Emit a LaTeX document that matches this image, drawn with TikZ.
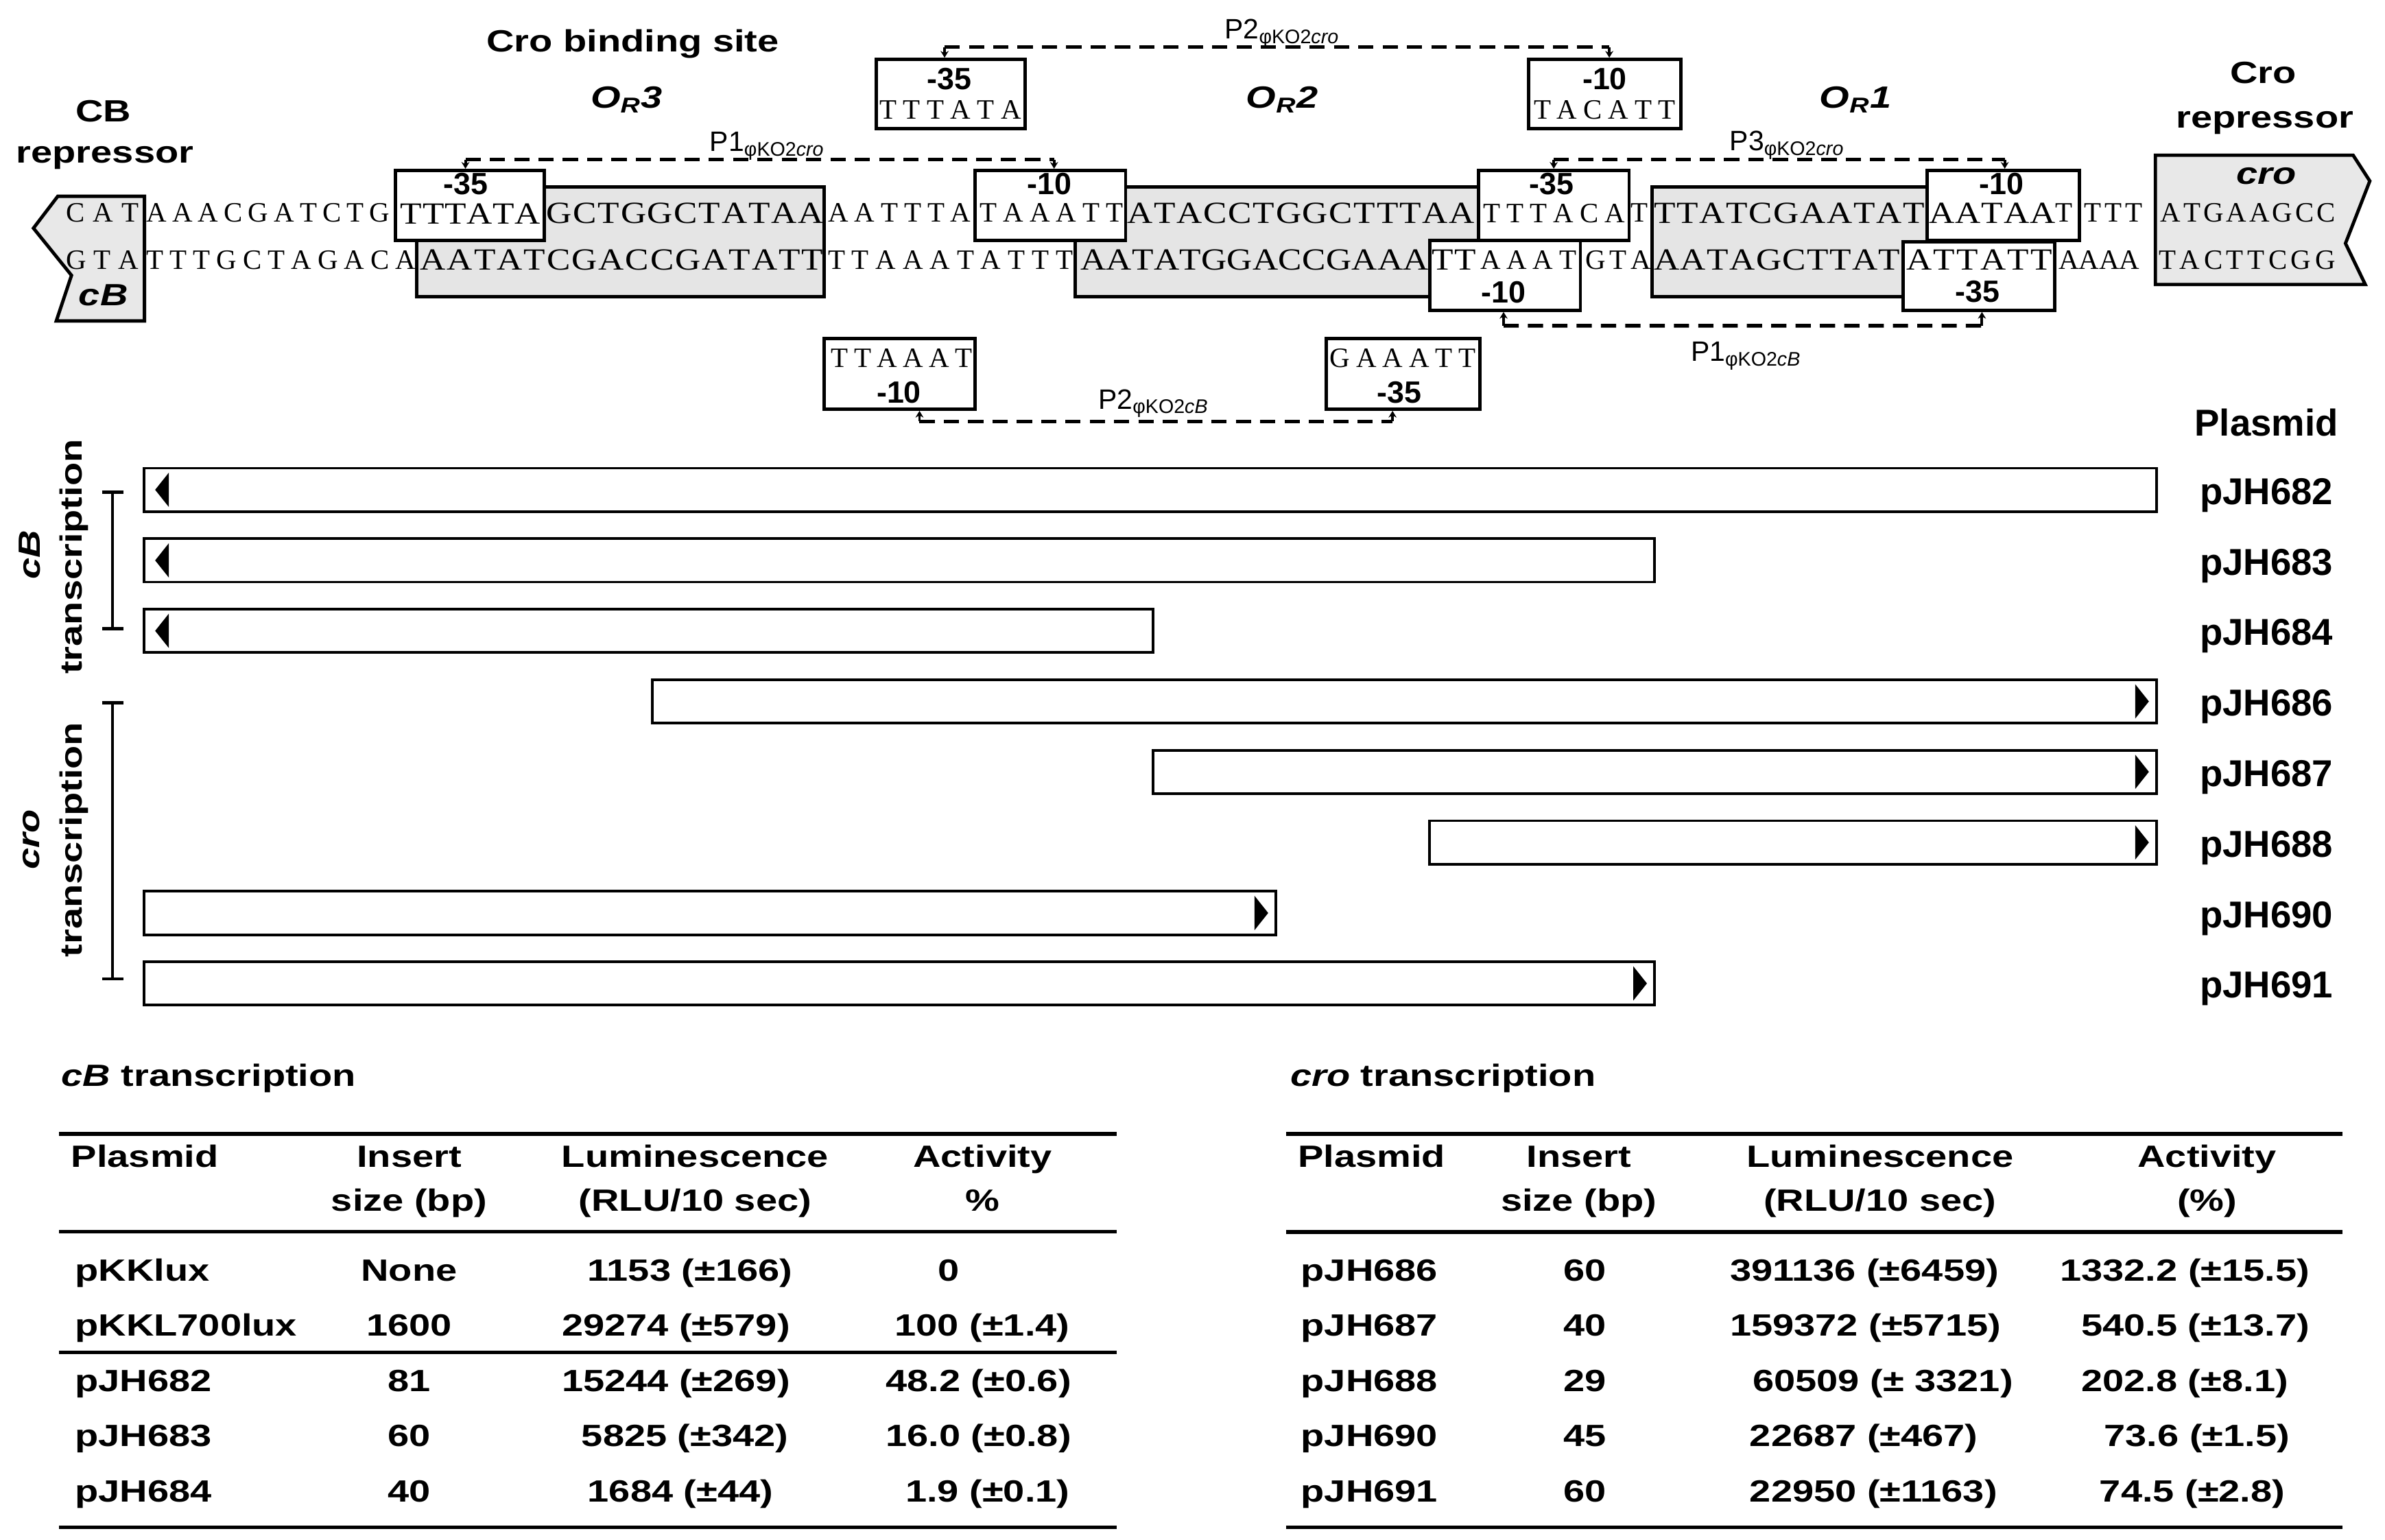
\documentclass[tikz,border=0pt]{standalone}
\usepackage{fontspec}
\setmainfont{Liberation Sans}[FakeStretch=1.25]
\newfontfamily\labfont{Liberation Sans}
\newfontfamily\seqfont{Liberation Serif}
\newfontfamily\bigseqfont{Liberation Serif}[FakeStretch=1.15]
\usetikzlibrary{arrows.meta}
\newlength\pu
\setlength\pu{0.02cm}
\newcommand\spr[2]{\makebox[#1\pu][s]{\spaceskip=0pt plus 1fil\relax #2}}
\newcommand\ori[1]{\textit{O\textsubscript{R}#1}}

\begin{document}
\begin{tikzpicture}[x=0.02cm,y=-0.02cm,
  tx/.style={font=\bfseries\fontsize{11.5}{13}\selectfont, inner sep=0},
  lab/.style={font=\labfont\fontsize{10.5}{12}\selectfont, inner sep=0, anchor=base},
  num/.style={font=\labfont\bfseries\fontsize{11.5}{12}\selectfont, inner sep=0},
  sm/.style={font=\seqfont\fontsize{10.5}{11}\selectfont, inner sep=0, anchor=west},
  bg/.style={font=\bigseqfont\fontsize{11.5}{12}\selectfont, inner sep=0, anchor=west},
  pbox/.style={draw, line width=1.25pt, fill=white, inner sep=0},
  orbox/.style={draw, line width=1.25pt, fill=black!10},
  gene/.style={draw, line width=1.25pt, fill=black!9},
  tick/.style={line width=1pt, {Stealth[length=2.5pt,width=3pt]}-},
  prom/.style={line width=1.4pt, dash pattern=on 0.2cm off 0.12cm},
  bar/.style={draw, line width=1pt, inner sep=0, minimum height=28.5*\pu, anchor=west},
  plab/.style={font=\labfont\bfseries\fontsize{14}{16}\selectfont, inner sep=0, anchor=base},
  rule/.style={line width=1.4pt},
  brk/.style={line width=1.2pt, {Bar[width=0.28cm]}-{Bar[width=0.28cm]}}]
\useasboundingbox (0,0) rectangle (1568,1012);

\draw[orbox] (274,123) rectangle (542,195);
\draw[orbox] (707,123) rectangle (972,195);
\draw[orbox] (1086,123) rectangle (1268,195);
\draw[gene] (38,129) -- (22,150) -- (47,181) -- (37,211) -- (95,211) -- (95,129) -- cycle;
\draw[gene] (1417,102) -- (1547,102) -- (1558,119) -- (1542,160) -- (1555,187) -- (1417,187) -- cycle;

\node[pbox, minimum width=98*\pu, minimum height=46*\pu] (p1croA) at (309,135) {};
\node[pbox, minimum width=99*\pu, minimum height=46*\pu] (p1croB) at (690.5,135) {};
\node[pbox, minimum width=99*\pu, minimum height=46*\pu] (p3croA) at (1021.5,135) {};
\node[pbox, minimum width=100*\pu, minimum height=46*\pu] (p3croB) at (1317,135) {};
\node[pbox, minimum width=99*\pu, minimum height=46*\pu] (p1cBA) at (989.5,181) {};
\node[pbox, minimum width=100*\pu, minimum height=45*\pu] (p1cBB) at (1301,181.5) {};
\node[pbox, minimum width=98*\pu, minimum height=45.5*\pu] (p2croA) at (625,61.75) {};
\node[pbox, minimum width=100*\pu, minimum height=45.5*\pu] (p2croB) at (1055,61.75) {};
\node[pbox, minimum width=99*\pu, minimum height=46.5*\pu] (p2cBA) at (591.5,245.75) {};
\node[pbox, minimum width=101*\pu, minimum height=46.5*\pu] (p2cBB) at (922.5,245.75) {};

\node[sm] (t1) at (43,140) {\spr{48}{C A T}};
\node[sm] (t2) at (96,140) {\spr{160}{A A A C G A T C T G}};
\node[bg] (t3) at (263,140.5) {\spr{92}{T T T A T A}};
\node[bg] (t4) at (359,140) {\spr{182}{G C T G G C T A T A A}};
\node[sm] (t5) at (544,140) {\spr{94}{A A T T T A}};
\node[sm] (t6) at (644,140) {\spr{94}{T A A A T T}};
\node[bg] (t7) at (741,140) {\spr{228}{A T A C C T G G C T T T A A}};
\node[sm] (t8) at (975,140.5) {\spr{93}{T T T A C A}};
\node[sm, anchor=center] (t9) at (1078,140) {T};
\node[bg] (t10) at (1087,140) {\spr{178}{T T A T C G A A T A T}};
\node[bg] (t11) at (1268,140) {\spr{83}{A A T A A}};
\node[sm, anchor=center] (t12) at (1357,140) {T};
\node[sm] (t13) at (1370,140) {\spr{38}{T T T}};
\node[sm] (t14) at (1420,140) {\spr{115}{A T G A A G C C}};

\node[sm] (b1) at (43,171) {\spr{48}{G T A}};
\node[sm] (b2) at (96,171) {\spr{177}{T T T G C T A G A C A}};
\node[bg] (b3) at (276,171) {\spr{265}{A A T A T C G A C C G A T A T T}};
\node[sm] (b4) at (544,171) {\spr{161}{T T A A A T A T T T}};
\node[bg] (b5) at (710,171) {\spr{229}{A A T A T G G A C C G A A A}};
\node[bg] (b6) at (941,171) {\spr{29}{T T}};
\node[sm] (b7) at (973,171) {\spr{63}{A A A T}};
\node[sm] (b8) at (1042,171) {\spr{43}{G T A}};
\node[bg] (b9) at (1087,171) {\spr{162}{A A T A G C T T A T}};
\node[bg] (b10) at (1253,171) {\spr{96}{A T T A T T}};
\node[sm] (b11) at (1353,171) {\spr{45}{A A A A}};
\node[sm] (b12) at (1419,171) {\spr{116}{T A C T T C G G}};

\node[sm] (s1) at (578,72) {\spr{93}{T T T A T A}};
\node[sm] (s2) at (1008,72) {\spr{93}{T A C A T T}};
\node[sm] (s3) at (546,235.6) {\spr{93}{T T A A A T}};
\node[sm] (s4) at (874,235.6) {\spr{96}{G A A A T T}};

\node[num] (n1) at (306,121) {-35};
\node[num] (n2) at (690,121) {-10};
\node[num] (n3) at (1020,121) {-35};
\node[num] (n4) at (1316,121) {-10};
\node[num] (n5) at (988.5,192) {-10};
\node[num] (n6) at (1300,191.5) {-35};
\node[num] (n7) at (624,52) {-35};
\node[num] (n8) at (1055,52) {-10};
\node[num] (n9) at (591,258) {-10};
\node[num] (n10) at (920,258) {-35};

\draw[tick] ([xshift={-4*\pu}]p2croA.north) -- ++(0,-7) coordinate (p2croL);
\draw[tick] ([xshift={3*\pu}]p2croB.north) -- ++(0,-7) coordinate (p2croR);
\draw[prom] (p2croL) -- (p2croR);
\draw[tick] ([xshift={-3*\pu}]p1croA.north) -- ++(0,-6) coordinate (p1croL);
\draw[tick] ([xshift={2.5*\pu}]p1croB.north) -- ++(0,-6) coordinate (p1croR);
\draw[prom] (p1croL) -- (p1croR);
\draw[tick] (p3croA.north) -- ++(0,-6) coordinate (p3croL);
\draw[tick] ([xshift={1*\pu}]p3croB.north) -- ++(0,-6) coordinate (p3croR);
\draw[prom] (p3croL) -- (p3croR);
\draw[tick] ([xshift={-1*\pu}]p1cBA.south) -- ++(0,9) coordinate (p1cBL);
\draw[tick] ([xshift={2*\pu}]p1cBB.south) -- ++(0,9) coordinate (p1cBR);
\draw[prom] (p1cBL) -- (p1cBR);
\draw[tick] ([xshift={13*\pu}]p2cBA.south) -- ++(0,7) coordinate (p2cBL);
\draw[tick] ([xshift={-7*\pu}]p2cBB.south) -- ++(0,7) coordinate (p2cBR);
\draw[prom] (p2cBL) -- (p2cBR);

\node[lab] (p2crol) at (843,25.6) {P2\textsubscript{φKO2\textit{cro}}};
\node[lab] (p1crol) at (504.5,99.5) {P1\textsubscript{φKO2\textit{cro}}};
\node[lab] (p3crol) at (1175,99.2) {P3\textsubscript{φKO2\textit{cro}}};
\node[lab] (p1cBl) at (1148,237.5) {P1\textsubscript{φKO2\textit{cB}}};
\node[lab] (p2cBl) at (758.5,269) {P2\textsubscript{φKO2\textit{cB}}};

\node[tx, anchor=base] (cbh1) at (68,80) {CB};
\node[tx, anchor=base] (cbh2) at (69,107) {repressor};
\node[tx, anchor=base] (crobs) at (416,34) {Cro binding site};
\node[tx, anchor=base] (or3) at (412,71) {\ori{3}};
\node[tx, anchor=base] (or2) at (843,71) {\ori{2}};
\node[tx, anchor=base] (or1) at (1220,71) {\ori{1}};
\node[tx, anchor=base] (croh1) at (1488,55) {Cro};
\node[tx, anchor=base] (croh2) at (1489,84) {repressor};
\node[tx, anchor=base] (cbg) at (68,201) {\textit{cB}};
\node[tx, anchor=base] (crog) at (1490,121) {\textit{cro}};

\node[plab] (pl0) at (1490,286.7) {Plasmid};
\node[bar, minimum width=1323*\pu] (b682) at (94,322) {};
\node[bar, minimum width=993*\pu] (b683) at (94,368.4) {};
\node[bar, minimum width=663*\pu] (b684) at (94,414.7) {};
\node[bar, minimum width=989*\pu] (b686) at (428,461.1) {};
\node[bar, minimum width=660*\pu] (b687) at (757,507.4) {};
\node[bar, minimum width=478*\pu] (b688) at (939,553.8) {};
\node[bar, minimum width=744*\pu] (b690) at (94,600.2) {};
\node[bar, minimum width=993*\pu] (b691) at (94,646.5) {};
\fill ([xshift={8*\pu}]b682.west) -- ++(9,-11.3) -- ++(0,22.6) -- cycle;
\fill ([xshift={8*\pu}]b683.west) -- ++(9,-11.3) -- ++(0,22.6) -- cycle;
\fill ([xshift={8*\pu}]b684.west) -- ++(9,-11.3) -- ++(0,22.6) -- cycle;
\fill ([xshift={-6*\pu}]b686.east) -- ++(-9,-11.3) -- ++(0,22.6) -- cycle;
\fill ([xshift={-6*\pu}]b687.east) -- ++(-9,-11.3) -- ++(0,22.6) -- cycle;
\fill ([xshift={-6*\pu}]b688.east) -- ++(-9,-11.3) -- ++(0,22.6) -- cycle;
\fill ([xshift={-6*\pu}]b690.east) -- ++(-9,-11.3) -- ++(0,22.6) -- cycle;
\fill ([xshift={-6*\pu}]b691.east) -- ++(-9,-11.3) -- ++(0,22.6) -- cycle;
\node[plab] (l682) at (1490,331.5) {pJH682};
\node[plab] (l683) at (1490,377.9) {pJH683};
\node[plab] (l684) at (1490,424.2) {pJH684};
\node[plab] (l686) at (1490,470.6) {pJH686};
\node[plab] (l687) at (1490,516.9) {pJH687};
\node[plab] (l688) at (1490,563.3) {pJH688};
\node[plab] (l690) at (1490,609.7) {pJH690};
\node[plab] (l691) at (1490,656) {pJH691};

\draw[brk] (74,322.5) -- (74,414.5);
\draw[brk] (74,461) -- (74,644.5);
\node[tx, rotate=90] (cbr1) at (19.5,364.6) {\textit{cB}};
\node[tx, rotate=90] (cbr2) at (48.5,366) {transcription};
\node[tx, rotate=90] (cror1) at (20.7,552) {\textit{cro}};
\node[tx, rotate=90] (cror2) at (48.5,552) {transcription};

\node[tx, anchor=base west] (ttl1) at (40,714) {\textit{cB} transcription};
\draw[rule] (39,745.5) -- (734,745.5);
\draw[rule] (39,809.6) -- (734,809.6);
\draw[rule] (39,889) -- (734,889);
\draw[rule] (39,1004) -- (734,1004);
\node[tx, anchor=base west] (h11) at (46.5,767.5) {Plasmid};
\node[tx, anchor=base] (h12) at (269,767.5) {Insert};
\node[tx, anchor=base] (h12b) at (269,796) {size (bp)};
\node[tx, anchor=base] (h13) at (457,767.5) {Luminescence};
\node[tx, anchor=base] (h13b) at (457,796) {(RLU/10 sec)};
\node[tx, anchor=base] (h14) at (646,767.5) {Activity};
\node[tx, anchor=base] (h14b) at (646,796) {\%};
\node[tx, anchor=base west] (r11) at (49,842) {pKKlux};
\node[tx, anchor=base west] (r21) at (49,878.3) {pKKL700lux};
\node[tx, anchor=base west] (r31) at (49,914.6) {pJH682};
\node[tx, anchor=base west] (r41) at (49,950.9) {pJH683};
\node[tx, anchor=base west] (r51) at (49,987.2) {pJH684};
\node[tx, anchor=base] (r12) at (269,842) {None};
\node[tx, anchor=base] (r22) at (269,878.3) {1600};
\node[tx, anchor=base] (r32) at (269,914.6) {81};
\node[tx, anchor=base] (r42) at (269,950.9) {60};
\node[tx, anchor=base] (r52) at (269,987.2) {40};
\node[tx, anchor=base west] (r13) at (386,842) {1153 (±166)};
\node[tx, anchor=base west] (r23) at (369,878.3) {29274 (±579)};
\node[tx, anchor=base west] (r33) at (369,914.6) {15244 (±269)};
\node[tx, anchor=base west] (r43) at (382,950.9) {5825 (±342)};
\node[tx, anchor=base west] (r53) at (386,987.2) {1684 (±44)};
\node[tx, anchor=base] (r14) at (623.6,842) {0};
\node[tx, anchor=base west] (r24) at (588,878.3) {100 (±1.4)};
\node[tx, anchor=base west] (r34) at (582,914.6) {48.2 (±0.6)};
\node[tx, anchor=base west] (r44) at (582,950.9) {16.0 (±0.8)};
\node[tx, anchor=base west] (r54) at (595,987.2) {1.9 (±0.1)};

\node[tx, anchor=base west] (ttl2) at (848,714) {\textit{cro} transcription};
\draw[rule] (845.5,745.5) -- (1540,745.5);
\draw[rule] (845.5,810) -- (1540,810);
\draw[rule] (845.5,1004) -- (1540,1004);
\node[tx, anchor=base west] (h21) at (853,767.5) {Plasmid};
\node[tx, anchor=base] (h22) at (1038,767.5) {Insert};
\node[tx, anchor=base] (h22b) at (1038,796) {size (bp)};
\node[tx, anchor=base] (h23) at (1236,767.5) {Luminescence};
\node[tx, anchor=base] (h23b) at (1236,796) {(RLU/10 sec)};
\node[tx, anchor=base] (h24) at (1451,767.5) {Activity};
\node[tx, anchor=base] (h24b) at (1451,796) {(\%)};
\node[tx, anchor=base west] (q11) at (855,842) {pJH686};
\node[tx, anchor=base west] (q21) at (855,878.3) {pJH687};
\node[tx, anchor=base west] (q31) at (855,914.6) {pJH688};
\node[tx, anchor=base west] (q41) at (855,950.9) {pJH690};
\node[tx, anchor=base west] (q51) at (855,987.2) {pJH691};
\node[tx, anchor=base] (q12) at (1042,842) {60};
\node[tx, anchor=base] (q22) at (1042,878.3) {40};
\node[tx, anchor=base] (q32) at (1042,914.6) {29};
\node[tx, anchor=base] (q42) at (1042,950.9) {45};
\node[tx, anchor=base] (q52) at (1042,987.2) {60};
\node[tx, anchor=base west] (q13) at (1137,842) {391136 (±6459)};
\node[tx, anchor=base west] (q23) at (1137,878.3) {159372 (±5715)};
\node[tx, anchor=base west] (q33) at (1152,914.6) {60509 (± 3321)};
\node[tx, anchor=base west] (q43) at (1150,950.9) {22687 (±467)};
\node[tx, anchor=base west] (q53) at (1150,987.2) {22950 (±1163)};
\node[tx, anchor=base west] (q14) at (1354,842) {1332.2 (±15.5)};
\node[tx, anchor=base west] (q24) at (1368,878.3) {540.5 (±13.7)};
\node[tx, anchor=base west] (q34) at (1368,914.6) {202.8 (±8.1)};
\node[tx, anchor=base west] (q44) at (1383,950.9) {73.6 (±1.5)};
\node[tx, anchor=base west] (q54) at (1380,987.2) {74.5 (±2.8)};
\end{tikzpicture}
\end{document}
